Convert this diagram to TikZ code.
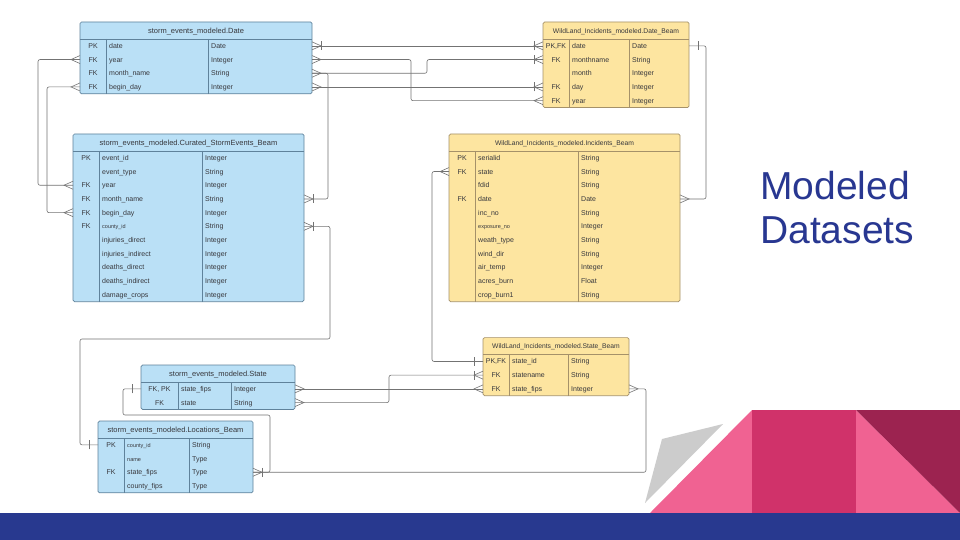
\documentclass[tikz,border=0pt]{standalone}
\usepackage{fontspec}
\setmainfont{Liberation Sans}
\definecolor{blueF}{RGB}{186,224,246}
\definecolor{blueD}{RGB}{95,130,155}
\definecolor{yelF}{RGB}{253,229,160}
\definecolor{yelD}{RGB}{165,145,105}
\definecolor{lineC}{RGB}{115,115,115}
\definecolor{txtC}{RGB}{55,55,60}
\definecolor{titleC}{RGB}{40,55,145}
\definecolor{barC}{RGB}{40,57,143}
\definecolor{pinkA}{RGB}{240,98,146}
\definecolor{pinkB}{RGB}{208,50,106}
\definecolor{maroonC}{RGB}{156,35,80}
\definecolor{greyA}{RGB}{204,204,204}
\tikzset{
  tbl/.style={draw=#1D, fill=#1F, rounded corners=1.5pt, line width=0.7pt, inner sep=0pt, outer sep=0pt},
  tline/.style={draw=#1D, line width=0.6pt},
  rowbox/.style={inner sep=0pt, outer sep=0pt, minimum height=13.7pt},
  blueH/.style={font=\fontsize{7.5}{8}\selectfont},
  yelH/.style={font=\fontsize{6.75}{8}\selectfont},
  celltxt/.style={text=txtC, inner sep=0pt},
  conn/.style={draw=lineC, line width=0.6pt},
  route/.style={conn, rounded corners=2pt},
  crow/.pic={\draw[conn] (0,-4) -- (9,0) -- (0,4);},
  onebar/.pic={\draw[conn] (9,-4.5) -- (9,4.5);},
}
% #1 id #2 x0 #3 x1 #4 c1 #5 c2 #6 ytop #7 title #8 colour #9 rows
\newcommand\ertable[9]{%
  \def\nrows{0}%
  \foreach \k/\n/\t/\f [count=\i] in {#9} {\xdef\nrows{\i}}%
  \pgfmathsetmacro\tblh{17+\nrows*13.7}%
  \pgfmathsetmacro\tblw{#3-#2}%
  \node[tbl=#8, minimum width=\tblw pt, minimum height=\tblh pt, anchor=north west] (#1) at (#2,#6) {};
  \draw[tline=#8] (#2,#6+17) -- (#3,#6+17);
  \draw[tline=#8] (#4,#6+17) -- (#4,#6+\tblh);
  \draw[tline=#8] (#5,#6+17) -- (#5,#6+\tblh);
  \node[#8H, celltxt, anchor=base] (#1-title) at ({(#2+#3)/2},#6+11.2) {#7};
  \foreach \k/\n/\t/\f [count=\i] in {#9} {%
    \pgfmathsetmacro\yy{#6+17+(\i-0.5)*13.7}%
    \node[rowbox, minimum width=\tblw pt] (#1-\i) at ({(#2+#3)/2},\yy) {};
    \node[celltxt, font=\fontsize{7}{8}\selectfont, anchor=base] (#1-\i-k) at ({(#2+#4)/2},\yy+2.5) {\k};
    \node[celltxt, font=\fontsize{\f}{8}\selectfont, anchor=base west] (#1-\i-n) at (#4+3,\yy+2.5) {\n};
    \node[celltxt, font=\fontsize{7}{8}\selectfont, anchor=base west] (#1-\i-t) at (#5+3,\yy+2.5) {\t};
  }%
}
\begin{document}
\begin{tikzpicture}[x=1pt,y=-1pt]
\useasboundingbox (0,0) rectangle (960,540);
\fill[white] (0,0) rectangle (960,540);

% decorative shapes
\fill[greyA] (723,424) -- (662,439) -- (645,503) -- cycle;
\fill[pinkA] (650,513) -- (752,410) -- (752,513) -- cycle;
\fill[pinkB] (752,410) rectangle (856,513);
\fill[pinkA] (856,410) -- (960,513) -- (856,513) -- cycle;
\fill[maroonC] (856,410) -- (960,410) -- (960,513) -- cycle;
\fill[barC] (0,513) rectangle (960,540);

% tables
\ertable{D}{80}{312}{106}{208}{22}{storm\_events\_modeled.Date}{blue}{
  PK/date/Date/7, FK/year/Integer/7, FK/month\_name/String/7, FK/begin\_day/Integer/7}
\ertable{C}{73}{304}{99}{202}{134}{storm\_events\_modeled.Curated\_StormEvents\_Beam}{blue}{
  PK/event\_id/Integer/7, /event\_type/String/7, FK/year/Integer/7, FK/month\_name/String/7,
  FK/begin\_day/Integer/7, FK/county\_id/String/5.5, /injuries\_direct/Integer/7,
  /injuries\_indirect/Integer/7, /deaths\_direct/Integer/7, /deaths\_indirect/Integer/7,
  /damage\_crops/Integer/7}
\ertable{S}{141}{295}{178}{231}{365}{storm\_events\_modeled.State}{blue}{
  {FK, PK}/state\_fips/Integer/7, FK/state/String/7}
\ertable{L}{98}{253}{124}{189}{421}{storm\_events\_modeled.Locations\_Beam}{blue}{
  PK/county\_id/String/5.5, /name/Type/5.5, FK/state\_fips/Type/7, /county\_fips/Type/7}
\ertable{DB}{543}{689}{569}{629}{22}{WildLand\_Incidents\_modeled.Date\_Beam}{yel}{
  {PK,FK}/date/Date/7, FK/monthname/String/7, /month/Integer/7, FK/day/Integer/7,
  FK/year/Integer/7}
\ertable{I}{449}{680}{475}{578}{134}{WildLand\_Incidents\_modeled.Incidents\_Beam}{yel}{
  PK/serialid/String/7, FK/state/String/7, /fdid/String/7, FK/date/Date/7, /inc\_no/String/7,
  /exposure\_no/Integer/5.5, /weath\_type/String/7, /wind\_dir/String/7, /air\_temp/Integer/7,
  /acres\_burn/Float/7, /crop\_burn1/String/7}
\ertable{SB}{483}{629}{509}{568}{337.6}{WildLand\_Incidents\_modeled.State\_Beam}{yel}{
  {PK,FK}/state\_id/String/7, FK/statename/String/7, FK/state\_fips/Integer/7}

% routing columns / rows
\coordinate (v1) at (411,0);
\coordinate (v2) at (427,0);
\coordinate (v3) at (328,0);
\coordinate (v4) at (38,0);
\coordinate (v5) at (47,0);
\coordinate (v6) at (330,0);
\coordinate (v7) at (80,0);
\coordinate (v8) at (706,0);
\coordinate (v9) at (432,0);
\coordinate (v10) at (389,0);
\coordinate (v11) at (123,0);
\coordinate (v12) at (270,0);
\coordinate (v13) at (646,0);
\coordinate (h1) at (0,339);
\coordinate (h2) at (0,415);

% connectors
\draw[route] (D-1.east) -- (DB-1.west);
\draw[route] (D-2.east) -- (D-2.east -| v1) |- (DB-5.west);
\draw[route] (D-3.east) -- (D-3.east -| v2) |- (DB-2.west);
\draw[route] (D-3.east) -- (D-3.east -| v3) |- (C-4.east);
\draw[route] (D-4.east) -- (DB-4.west);
\draw[route] (D-2.west) -- (D-2.west -| v4) |- (C-3.west);
\draw[route] (D-4.west) -- (D-4.west -| v5) |- (C-5.west);
\draw[route] (C-6.east) -- (C-6.east -| v6) -- (v6 |- h1) -- (v7 |- h1) |- (L-1.west);
\draw[route] (DB-1.east) -- (DB-1.east -| v8) |- (I-4.east);
\draw[route] (I-2.west) -- (I-2.west -| v9) |- (SB-1.west);
\draw[route] (S-1.east) -- (SB-3.west);
\draw[route] (S-2.east) -- (S-2.east -| v10) |- (SB-2.west);
\draw[route] (S-1.west) -- (S-1.west -| v11) -- (v11 |- h2) -- (v12 |- h2) |- (L-3.east);
\draw[route] (L-3.east) -- (L-3.east -| v13) |- (SB-3.east);

% end marks
\pic at (D-1.east) {crow}; \pic at (D-1.east) {onebar};
\pic at (D-2.east) {crow};
\pic at (D-3.east) {crow};
\pic at (D-4.east) {crow};
\pic[rotate=180] at (D-2.west) {crow};
\pic[rotate=180] at (D-4.west) {crow};
\pic[rotate=180] at (DB-1.west) {crow}; \pic[rotate=180] at (DB-1.west) {onebar};
\pic[rotate=180] at (DB-2.west) {crow}; \pic[rotate=180] at (DB-2.west) {onebar};
\pic[rotate=180] at (DB-4.west) {crow}; \pic[rotate=180] at (DB-4.west) {onebar};
\pic[rotate=180] at (DB-5.west) {crow};
\pic at (DB-1.east) {onebar};
\pic[rotate=180] at (C-3.west) {crow};
\pic[rotate=180] at (C-5.west) {crow};
\pic at (C-4.east) {crow}; \pic at (C-4.east) {onebar};
\pic at (C-6.east) {crow}; \pic at (C-6.east) {onebar};
\pic at (I-4.east) {crow};
\pic[rotate=180] at (I-2.west) {crow};
\pic[rotate=180] at (SB-1.west) {onebar};
\pic[rotate=180] at (SB-2.west) {crow}; \pic[rotate=180] at (SB-2.west) {onebar};
\pic[rotate=180] at (SB-3.west) {crow};
\pic at (SB-3.east) {crow};
\pic at (S-1.east) {crow};
\pic at (S-2.east) {crow};
\pic[rotate=180] at (S-1.west) {onebar};
\pic[rotate=180] at (L-1.west) {onebar};
\pic at (L-3.east) {crow}; \pic at (L-3.east) {onebar};

% title
\node[font=\fontsize{39}{43}\selectfont, text=titleC, anchor=base west, inner sep=0pt] (title1) at (760,200) {Modeled};
\node[font=\fontsize{39}{43}\selectfont, text=titleC, anchor=base west, inner sep=0pt] (title2) at (760,243) {Datasets};
\end{tikzpicture}
\end{document}
